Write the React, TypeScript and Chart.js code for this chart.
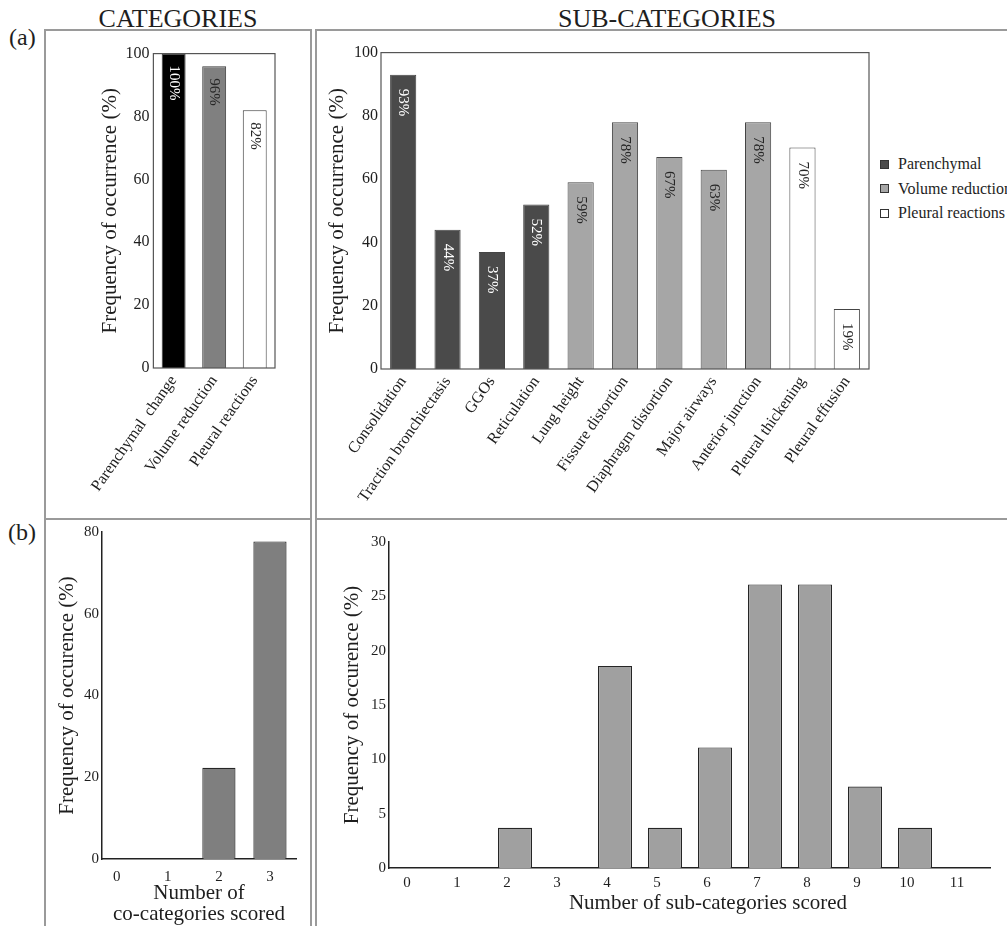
import React, { useEffect, useRef } from "react";
import { Chart, registerables } from "chart.js";

Chart.register(...registerables);

const FONT = '"Liberation Serif", "Times New Roman", serif';
const INK = "#1e1e1e";

// ---- (a) CATEGORIES ----
const categoryLabels = ["Parenchymal  change", "Volume reduction", "Pleural reactions"];
const categoryValues = [100, 96, 82];
const categoryColors = ["#000000", "#808080", "#ffffff"];
const categoryTextColors = ["#ffffff", "#262626", "#262626"];

// ---- (a) SUB-CATEGORIES ----
const subLabels = [
  "Consolidation",
  "Traction bronchiectasis",
  "GGOs",
  "Reticulation",
  "Lung height",
  "Fissure distortion",
  "Diaphragm distortion",
  "Major airways",
  "Anterior junction",
  "Pleural thickening",
  "Pleural effusion",
];
const subValues = [93, 44, 37, 52, 59, 78, 67, 63, 78, 70, 19];
const subGroup = [0, 0, 0, 0, 1, 1, 1, 1, 1, 2, 2];
const legendLabels = ["Parenchymal", "Volume reduction", "Pleural reactions"];
const groupColors = ["#4a4a4a", "#a6a6a6", "#ffffff"];
const groupTextColors = ["#ffffff", "#262626", "#262626"];

// ---- (b) co-categories ----
const coCountX = [0, 1, 2, 3];
const coCountValues = [0, 0, 22.3, 77.7];

// ---- (b) sub-categories ----
const subCountX = [0, 1, 2, 3, 4, 5, 6, 7, 8, 9, 10, 11];
const subCountValues = [0, 0, 3.7, 0, 18.6, 3.7, 11.1, 26.1, 26.1, 7.5, 3.7, 0];

Chart.defaults.font.family = FONT;
Chart.defaults.color = INK;

const framePlugin = {
  id: "frame",
  afterDraw(chart: any) {
    const { left, top, right, bottom } = chart.chartArea;
    const ctx = chart.ctx;
    ctx.save();
    ctx.strokeStyle = "#555555";
    ctx.lineWidth = 1.2;
    ctx.strokeRect(left, top, right - left, bottom - top);
    ctx.restore();
  },
};

const valueLabelPlugin = (texts: string[], colors: string[], offset: number) => ({
  id: "valueLabels",
  afterDatasetsDraw(chart: any) {
    const ctx = chart.ctx;
    const meta = chart.getDatasetMeta(0);
    ctx.save();
    ctx.font = `15px ${FONT}`;
    meta.data.forEach((bar: any, i: number) => {
      ctx.save();
      ctx.translate(bar.x, bar.y + offset);
      ctx.rotate(Math.PI / 2);
      ctx.textAlign = "left";
      ctx.textBaseline = "middle";
      ctx.fillStyle = colors[i];
      ctx.fillText(texts[i], 0, 0);
      ctx.restore();
    });
    ctx.restore();
  },
});

const noGrid = { display: false, drawTicks: false };
const zeroNoBorder = (w: number) => (c: any) => (c.raw && c.raw.y === 0 ? 0 : w);

function ChartCanvas({ left, top, width, height, make }: any) {
  const ref = useRef<HTMLCanvasElement>(null);
  useEffect(() => {
    const chart = new Chart(ref.current as HTMLCanvasElement, make());
    return () => chart.destroy();
  }, []);
  return (
    <canvas
      ref={ref}
      width={width}
      height={height}
      style={{ position: "absolute", left, top, width, height }}
    />
  );
}

const makeCategories = () => ({
  type: "bar",
  data: {
    labels: categoryLabels,
    datasets: [
      {
        data: categoryValues,
        backgroundColor: categoryColors,
        borderColor: "#3a3a3a",
        borderWidth: 1,
        barPercentage: 0.59,
        categoryPercentage: 1,
      },
    ],
  },
  options: {
    responsive: false,
    animation: false,
    layout: { padding: { top: 8, right: 5, left: 0, bottom: 0 } },
    plugins: { legend: { display: false }, tooltip: { enabled: false } },
    scales: {
      x: {
        grid: noGrid,
        border: { display: false },
        ticks: { autoSkip: false, minRotation: 55, maxRotation: 55, padding: 4, color: INK, font: { size: 16 } },
        afterFit: (s: any) => { s.height = 132; },
      },
      y: {
        min: 0,
        max: 100,
        grid: noGrid,
        border: { display: false },
        ticks: { stepSize: 20, padding: 4, color: INK, font: { size: 16 } },
        title: { display: true, text: "Frequency of occurrence (%)", color: INK, font: { size: 21 }, padding: 0 },
        afterFit: (s: any) => { s.width = 55; },
      },
    },
  },
  plugins: [framePlugin, valueLabelPlugin(categoryValues.map((v) => `${v}%`), categoryTextColors, 12)],
});

const makeSubCategories = () => ({
  type: "bar",
  data: {
    labels: subLabels,
    datasets: [
      {
        data: subValues,
        backgroundColor: subGroup.map((g) => groupColors[g]),
        borderColor: "#444444",
        borderWidth: 1,
        barPercentage: 0.59,
        categoryPercentage: 1,
      },
    ],
  },
  options: {
    responsive: false,
    animation: false,
    layout: { padding: { top: 8, right: 6, left: 0, bottom: 0 } },
    plugins: { legend: { display: false }, tooltip: { enabled: false } },
    scales: {
      x: {
        grid: noGrid,
        border: { display: false },
        ticks: { autoSkip: false, minRotation: 55, maxRotation: 55, padding: 4, color: INK, font: { size: 16 } },
        afterFit: (s: any) => { s.height = 143; },
      },
      y: {
        min: 0,
        max: 100,
        grid: noGrid,
        border: { display: false },
        ticks: { stepSize: 20, padding: 3, color: INK, font: { size: 16 } },
        title: { display: true, text: "Frequency of occurrence (%)", color: INK, font: { size: 21 }, padding: 0 },
        afterFit: (s: any) => { s.width = 56; },
      },
    },
  },
  plugins: [
    framePlugin,
    valueLabelPlugin(subValues.map((v) => `${v}%`), subGroup.map((g) => groupTextColors[g]), 14),
  ],
});

const makeCoCount = () => ({
  type: "bar",
  data: {
    datasets: [
      {
        data: coCountX.map((x, i) => ({ x, y: coCountValues[i] })),
        backgroundColor: "#7f7f7f",
        borderColor: "#262626",
        borderWidth: zeroNoBorder(1.2),
        barPercentage: 0.65,
        categoryPercentage: 1,
      },
    ],
  },
  options: {
    responsive: false,
    animation: false,
    layout: { padding: { top: 9, right: 4, left: 0, bottom: 0 } },
    plugins: { legend: { display: false }, tooltip: { enabled: false } },
    scales: {
      x: {
        type: "linear",
        min: -0.29,
        max: 3.51,
        offset: false,
        grid: noGrid,
        border: { display: true, color: "#222222", width: 1.5 },
        ticks: { stepSize: 1, includeBounds: false, autoSkip: false, padding: 9, color: INK, font: { size: 15 } },
        title: {
          display: true,
          text: ["Number of", "co-categories scored"],
          color: INK,
          font: { size: 21, lineHeight: 1 },
          padding: { top: 0, bottom: 0 },
        },
        afterFit: (s: any) => { s.height = 66; },
      },
      y: {
        min: 0,
        max: 80,
        grid: noGrid,
        border: { display: true, color: "#222222", width: 1.5 },
        ticks: { stepSize: 20, padding: 3, color: INK, font: { size: 15 } },
        title: { display: true, text: "Frequency of occurence (%)", color: INK, font: { size: 21 }, padding: 0 },
        afterFit: (s: any) => { s.width = 47; },
      },
    },
  },
});

const makeSubCount = () => ({
  type: "bar",
  data: {
    datasets: [
      {
        data: subCountX.map((x, i) => ({ x, y: subCountValues[i] })),
        backgroundColor: "#a0a0a0",
        borderColor: "#262626",
        borderWidth: zeroNoBorder(1.2),
        barPercentage: 0.68,
        categoryPercentage: 1,
      },
    ],
  },
  options: {
    responsive: false,
    animation: false,
    layout: { padding: { top: 9, right: 10, left: 0, bottom: 0 } },
    plugins: { legend: { display: false }, tooltip: { enabled: false } },
    scales: {
      x: {
        type: "linear",
        min: -0.52,
        max: 11.5,
        offset: false,
        grid: noGrid,
        border: { display: true, color: "#222222", width: 1.5 },
        ticks: { stepSize: 1, includeBounds: false, autoSkip: false, padding: 6, labelOffset: -8, color: INK, font: { size: 15 } },
        afterFit: (s: any) => { s.height = 57; },
      },
      y: {
        min: 0,
        max: 30,
        grid: noGrid,
        border: { display: true, color: "#222222", width: 1.5 },
        ticks: { stepSize: 5, padding: 3, color: INK, font: { size: 15 } },
        title: { display: true, text: "Frequency of occurence (%)", color: INK, font: { size: 21 }, padding: 0 },
        afterFit: (s: any) => { s.width = 49; },
      },
    },
  },
});

const boxStyle = (left: number, top: number, width: number, height: number): React.CSSProperties => ({
  position: "absolute",
  left,
  top,
  width,
  height,
  border: "2px solid #9a9a9a",
  boxSizing: "border-box",
});

const textStyle = (left: number, top: number, size: number, center = false): React.CSSProperties => ({
  position: "absolute",
  left,
  top,
  fontFamily: FONT,
  fontSize: size,
  lineHeight: `${size}px`,
  color: INK,
  whiteSpace: "nowrap",
  transform: center ? "translateX(-50%)" : undefined,
});

export default function App() {
  return (
    <div
      style={{
        position: "absolute",
        left: 0,
        top: 0,
        width: 1007,
        height: 926,
        overflow: "hidden",
        background: "#ffffff",
      }}
    >
      <div style={boxStyle(44, 29, 268, 491)} />
      <div style={boxStyle(315, 29, 720, 491)} />
      <div style={boxStyle(44, 518, 268, 420)} />
      <div style={boxStyle(315, 518, 720, 420)} />

      <div style={textStyle(178, 6, 26, true)}>CATEGORIES</div>
      <div style={textStyle(667, 6, 26, true)}>SUB-CATEGORIES</div>
      <div style={textStyle(9, 25, 24)}>(a)</div>
      <div style={textStyle(8, 520, 24)}>(b)</div>

      <ChartCanvas left={82} top={40} width={198} height={460} make={makeCategories} />
      <ChartCanvas left={325} top={40} width={550} height={472} make={makeSubCategories} />
      <ChartCanvas left={55} top={520} width={245} height={405} make={makeCoCount} />
      <ChartCanvas left={340} top={530} width={660} height={395} make={makeSubCount} />

      {legendLabels.map((label, i) => (
        <div key={label} style={{ position: "absolute", left: 880, top: 164 + i * 24.5 - 9, height: 18, display: "flex", alignItems: "center", whiteSpace: "nowrap" }}>
          <div style={{ width: 9, height: 9, boxSizing: "border-box", border: "1px solid #333", background: groupColors[i], marginRight: 9 }} />
          <span style={{ fontFamily: FONT, fontSize: 16, color: INK, lineHeight: "18px" }}>{label}</span>
        </div>
      ))}

      <div style={textStyle(708, 892, 21, true)}>Number of sub-categories scored</div>
    </div>
  );
}
